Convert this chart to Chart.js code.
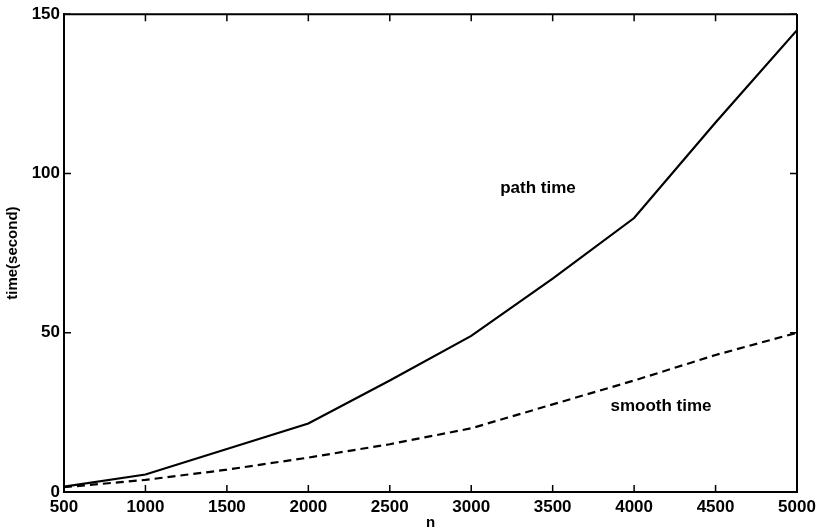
<!DOCTYPE html>
<html>
<head>
<meta charset="utf-8">
<script src="https://cdn.jsdelivr.net/npm/chart.js@4.4.1/dist/chart.umd.min.js"></script>
<style>
html,body{margin:0;padding:0;background:#fff;}
#wrap{width:824px;height:532px;position:relative;}
</style>
</head>
<body>
<div id="wrap"><canvas id="c" width="824" height="532"></canvas></div>
<script>
const nValues = [500, 1000, 1500, 2000, 2500, 3000, 3500, 4000, 4500, 5000];
const pathTime = [1.7, 5.5, 13.5, 21.5, 35, 49, 67, 86, 116, 145];
const smoothTime = [1.5, 3.8, 7, 10.8, 15, 20, 27.5, 35, 43, 50];
const xTicks = [500, 1000, 1500, 2000, 2500, 3000, 3500, 4000, 4500, 5000];
const yTicks = [0, 50, 100, 150];
const annotations = [
  {text: 'path time', n: 3410, t: 95.4},
  {text: 'smooth time', n: 4165, t: 27}
];
const xTitle = 'n';
const yTitle = 'time(second)';

const FONT = '"Liberation Sans", Arial, sans-serif';

const boxPlugin = {
  id: 'boxTicks',
  afterDraw(chart) {
    const ctx = chart.ctx;
    const a = chart.chartArea;
    const xs = chart.scales.x, ys = chart.scales.y;
    ctx.save();
    ctx.strokeStyle = '#000';
    ctx.lineWidth = 2;
    ctx.beginPath();
    ctx.moveTo(a.left, a.top); ctx.lineTo(a.right, a.top);
    ctx.moveTo(a.right, a.top); ctx.lineTo(a.right, a.bottom);
    ctx.stroke();
    ctx.lineWidth = 1.5;
    ctx.beginPath();
    xTicks.forEach(v => {
      const px = xs.getPixelForValue(v);
      ctx.moveTo(px, a.bottom); ctx.lineTo(px, a.bottom - 7);
      ctx.moveTo(px, a.top); ctx.lineTo(px, a.top + 7);
    });
    yTicks.forEach(v => {
      const py = ys.getPixelForValue(v);
      ctx.moveTo(a.left, py); ctx.lineTo(a.left + 7, py);
      ctx.moveTo(a.right, py); ctx.lineTo(a.right - 7, py);
    });
    ctx.stroke();
    ctx.fillStyle = '#000';
    ctx.font = 'bold 17px ' + FONT;
    ctx.textAlign = 'center';
    ctx.textBaseline = 'middle';
    annotations.forEach(an => {
      ctx.fillText(an.text, xs.getPixelForValue(an.n), ys.getPixelForValue(an.t));
    });
    ctx.restore();
  }
};

new Chart(document.getElementById('c'), {
  type: 'line',
  data: {
    datasets: [
      {
        label: 'path time',
        data: nValues.map((n, i) => ({x: n, y: pathTime[i]})),
        borderColor: '#000',
        borderWidth: 2.2,
        pointRadius: 0,
        tension: 0,
        fill: false
      },
      {
        label: 'smooth time',
        data: nValues.map((n, i) => ({x: n, y: smoothTime[i]})),
        borderColor: '#000',
        borderWidth: 2.2,
        borderDash: [8, 5],
        pointRadius: 0,
        tension: 0,
        fill: false
      }
    ]
  },
  options: {
    responsive: false,
    animation: false,
    layout: {padding: {top: 12, right: 27, left: 0, bottom: 0}},
    plugins: {legend: {display: false}, tooltip: {enabled: false}},
    scales: {
      x: {
        type: 'linear',
        min: 500, max: 5000,
        afterBuildTicks: s => { s.ticks = xTicks.map(v => ({value: v})); },
        afterFit: s => { s.height = 40; },
        grid: {display: false, drawTicks: false},
        border: {display: true, color: '#000', width: 2},
        ticks: {color: '#000', font: {family: FONT, size: 17, weight: 'bold'}, padding: 5, maxRotation: 0, autoSkip: false,
                callback: v => String(v)},
        title: {display: true, text: xTitle, color: '#000', font: {family: FONT, size: 15, weight: 'bold'}, padding: {top: 0, bottom: 0}}
      },
      y: {
        type: 'linear',
        min: 0, max: 150,
        afterBuildTicks: s => { s.ticks = yTicks.map(v => ({value: v})); },
        afterFit: s => { s.width = 64; },
        grid: {display: false, drawTicks: false},
        border: {display: true, color: '#000', width: 2},
        ticks: {color: '#000', font: {family: FONT, size: 17, weight: 'bold'}, padding: 4,
                callback: v => String(v)},
        title: {display: true, text: yTitle, color: '#000', font: {family: FONT, size: 15, weight: 'bold'}, padding: {top: 4, bottom: 0}}
      }
    }
  },
  plugins: [boxPlugin]
});
</script>
</body>
</html>
